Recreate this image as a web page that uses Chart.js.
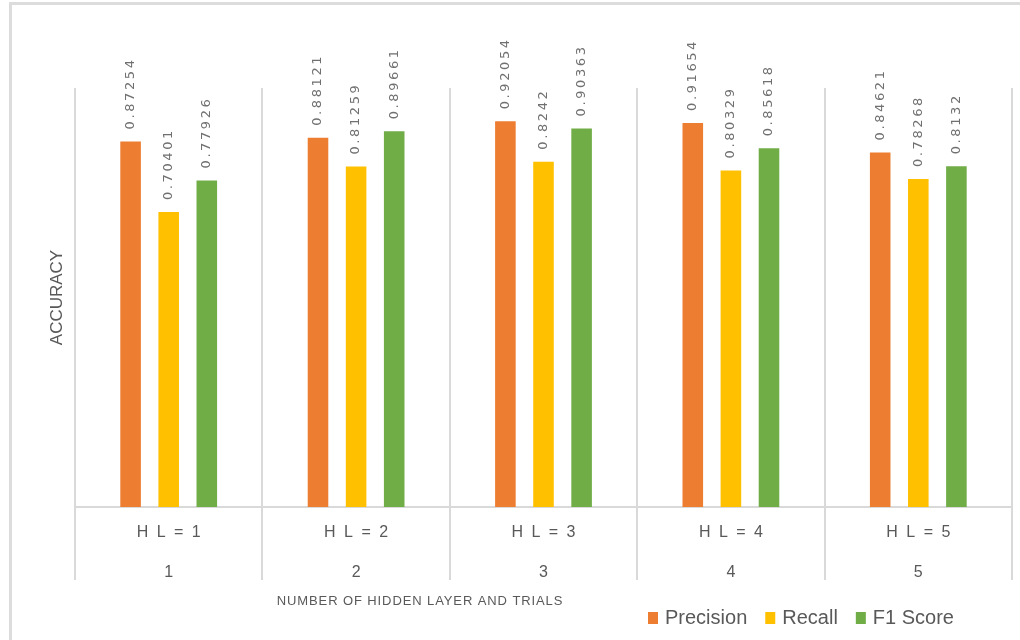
<!DOCTYPE html>
<html>
<head>
<meta charset="utf-8">
<script src="https://cdn.jsdelivr.net/npm/chart.js@4.4.0/dist/chart.umd.min.js"></script>
<style>
  html, body { margin: 0; padding: 0; background: #fff; }
  #wrap { position: relative; width: 1020px; height: 640px; }
  #frame { position: absolute; left: 9px; top: 2px; right: 0; bottom: 0;
           border-left: 3px solid #dcdcdc; border-top: 3px solid #dcdcdc; }
  canvas { position: absolute; left: 0; top: 0; }
</style>
</head>
<body>
<div id="wrap">
  <div id="frame"></div>
  <canvas id="chart" width="1020" height="640"></canvas>
</div>
<script>
// categories (two label rows) and the three series
var hiddenLayers = ['H L = 1', 'H L = 2', 'H L = 3', 'H L = 4', 'H L = 5'];
var trials = ['1', '2', '3', '4', '5'];
var precision = [0.87254, 0.88121, 0.92054, 0.91654, 0.84621];
var recall = [0.70401, 0.81259, 0.8242, 0.80329, 0.78268];
var f1Score = [0.77926, 0.89661, 0.90363, 0.85618, 0.8132];

var seriesNames = ['Precision', 'Recall', 'F1 Score'];
var seriesColors = ['#ED7D31', '#FFC000', '#70AD47'];

var textColor = '#595959';
var gridColor = '#d9d9d9';

// rotated value labels, two-row category labels, axis titles and legend
var extras = {
  id: 'extras',
  afterDatasetsDraw: function(chart) {
    var ctx = chart.ctx;
    ctx.save();
    ctx.font = '13px "DejaVu Sans"';
    ctx.letterSpacing = '2.6px';
    ctx.fillStyle = '#707070';
    ctx.textAlign = 'left';
    ctx.textBaseline = 'middle';
    chart.data.datasets.forEach(function(ds, di) {
      chart.getDatasetMeta(di).data.forEach(function(bar, i) {
        ctx.save();
        ctx.translate(bar.x, bar.y - 12);
        ctx.rotate(-Math.PI / 2);
        ctx.fillText(String(ds.data[i]), 0, 0);
        ctx.restore();
      });
    });
    ctx.restore();
  },
  afterDraw: function(chart) {
    var ctx = chart.ctx;
    var area = chart.chartArea;
    var xs = chart.scales.x;

    // category labels, two rows
    ctx.save();
    ctx.fillStyle = textColor;
    ctx.font = '16px "Liberation Sans"';
    ctx.textAlign = 'center';
    ctx.textBaseline = 'middle';
    hiddenLayers.forEach(function(h, i) {
      var px = xs.getPixelForTick(i);
      ctx.letterSpacing = '2px';
      ctx.fillText(h, px + 1, xs.top + 26);
      ctx.letterSpacing = '0px';
      ctx.fillText(trials[i], px, xs.top + 66);
    });
    ctx.restore();

    // y title
    ctx.save();
    ctx.fillStyle = textColor;
    ctx.font = '17px "Liberation Sans"';
    ctx.textAlign = 'center';
    ctx.textBaseline = 'middle';
    ctx.translate(57, (area.top + area.bottom) / 2);
    ctx.rotate(-Math.PI / 2);
    ctx.fillText('ACCURACY', 0, 0);
    ctx.restore();

    // x title
    ctx.save();
    ctx.fillStyle = textColor;
    ctx.font = '13px "Liberation Sans"';
    ctx.letterSpacing = '0.9px';
    ctx.textAlign = 'center';
    ctx.textBaseline = 'middle';
    ctx.fillText('NUMBER OF HIDDEN LAYER AND TRIALS', 420, 601);
    ctx.restore();

    // legend
    ctx.save();
    ctx.font = '20px "Liberation Sans"';
    ctx.textAlign = 'left';
    ctx.textBaseline = 'middle';
    var x = 648, y = 618;
    seriesNames.forEach(function(name, i) {
      ctx.fillStyle = seriesColors[i];
      ctx.fillRect(x, y - 6, 10, 12);
      ctx.fillStyle = textColor;
      ctx.fillText(name, x + 17, y);
      x += 17 + ctx.measureText(name).width + 18;
    });
    ctx.restore();
  }
};

new Chart(document.getElementById('chart'), {
  type: 'bar',
  data: {
    labels: hiddenLayers,
    datasets: seriesNames.map(function(name, i) {
      return {
        label: name,
        data: [precision, recall, f1Score][i],
        backgroundColor: seriesColors[i],
        categoryPercentage: 0.61,
        barPercentage: 0.54
      };
    })
  },
  options: {
    responsive: false,
    devicePixelRatio: 1,
    animation: false,
    layout: { padding: { left: 75, right: 8, top: 88, bottom: 60 } },
    plugins: {
      legend: { display: false },
      tooltip: { enabled: false }
    },
    scales: {
      x: {
        grid: { offset: true, color: gridColor, lineWidth: 2, tickLength: 73, tickColor: gridColor },
        border: { color: gridColor, width: 2 },
        ticks: { display: false }
      },
      y: { display: false, min: 0, max: 1 }
    }
  },
  plugins: [extras]
});
</script>
</body>
</html>
